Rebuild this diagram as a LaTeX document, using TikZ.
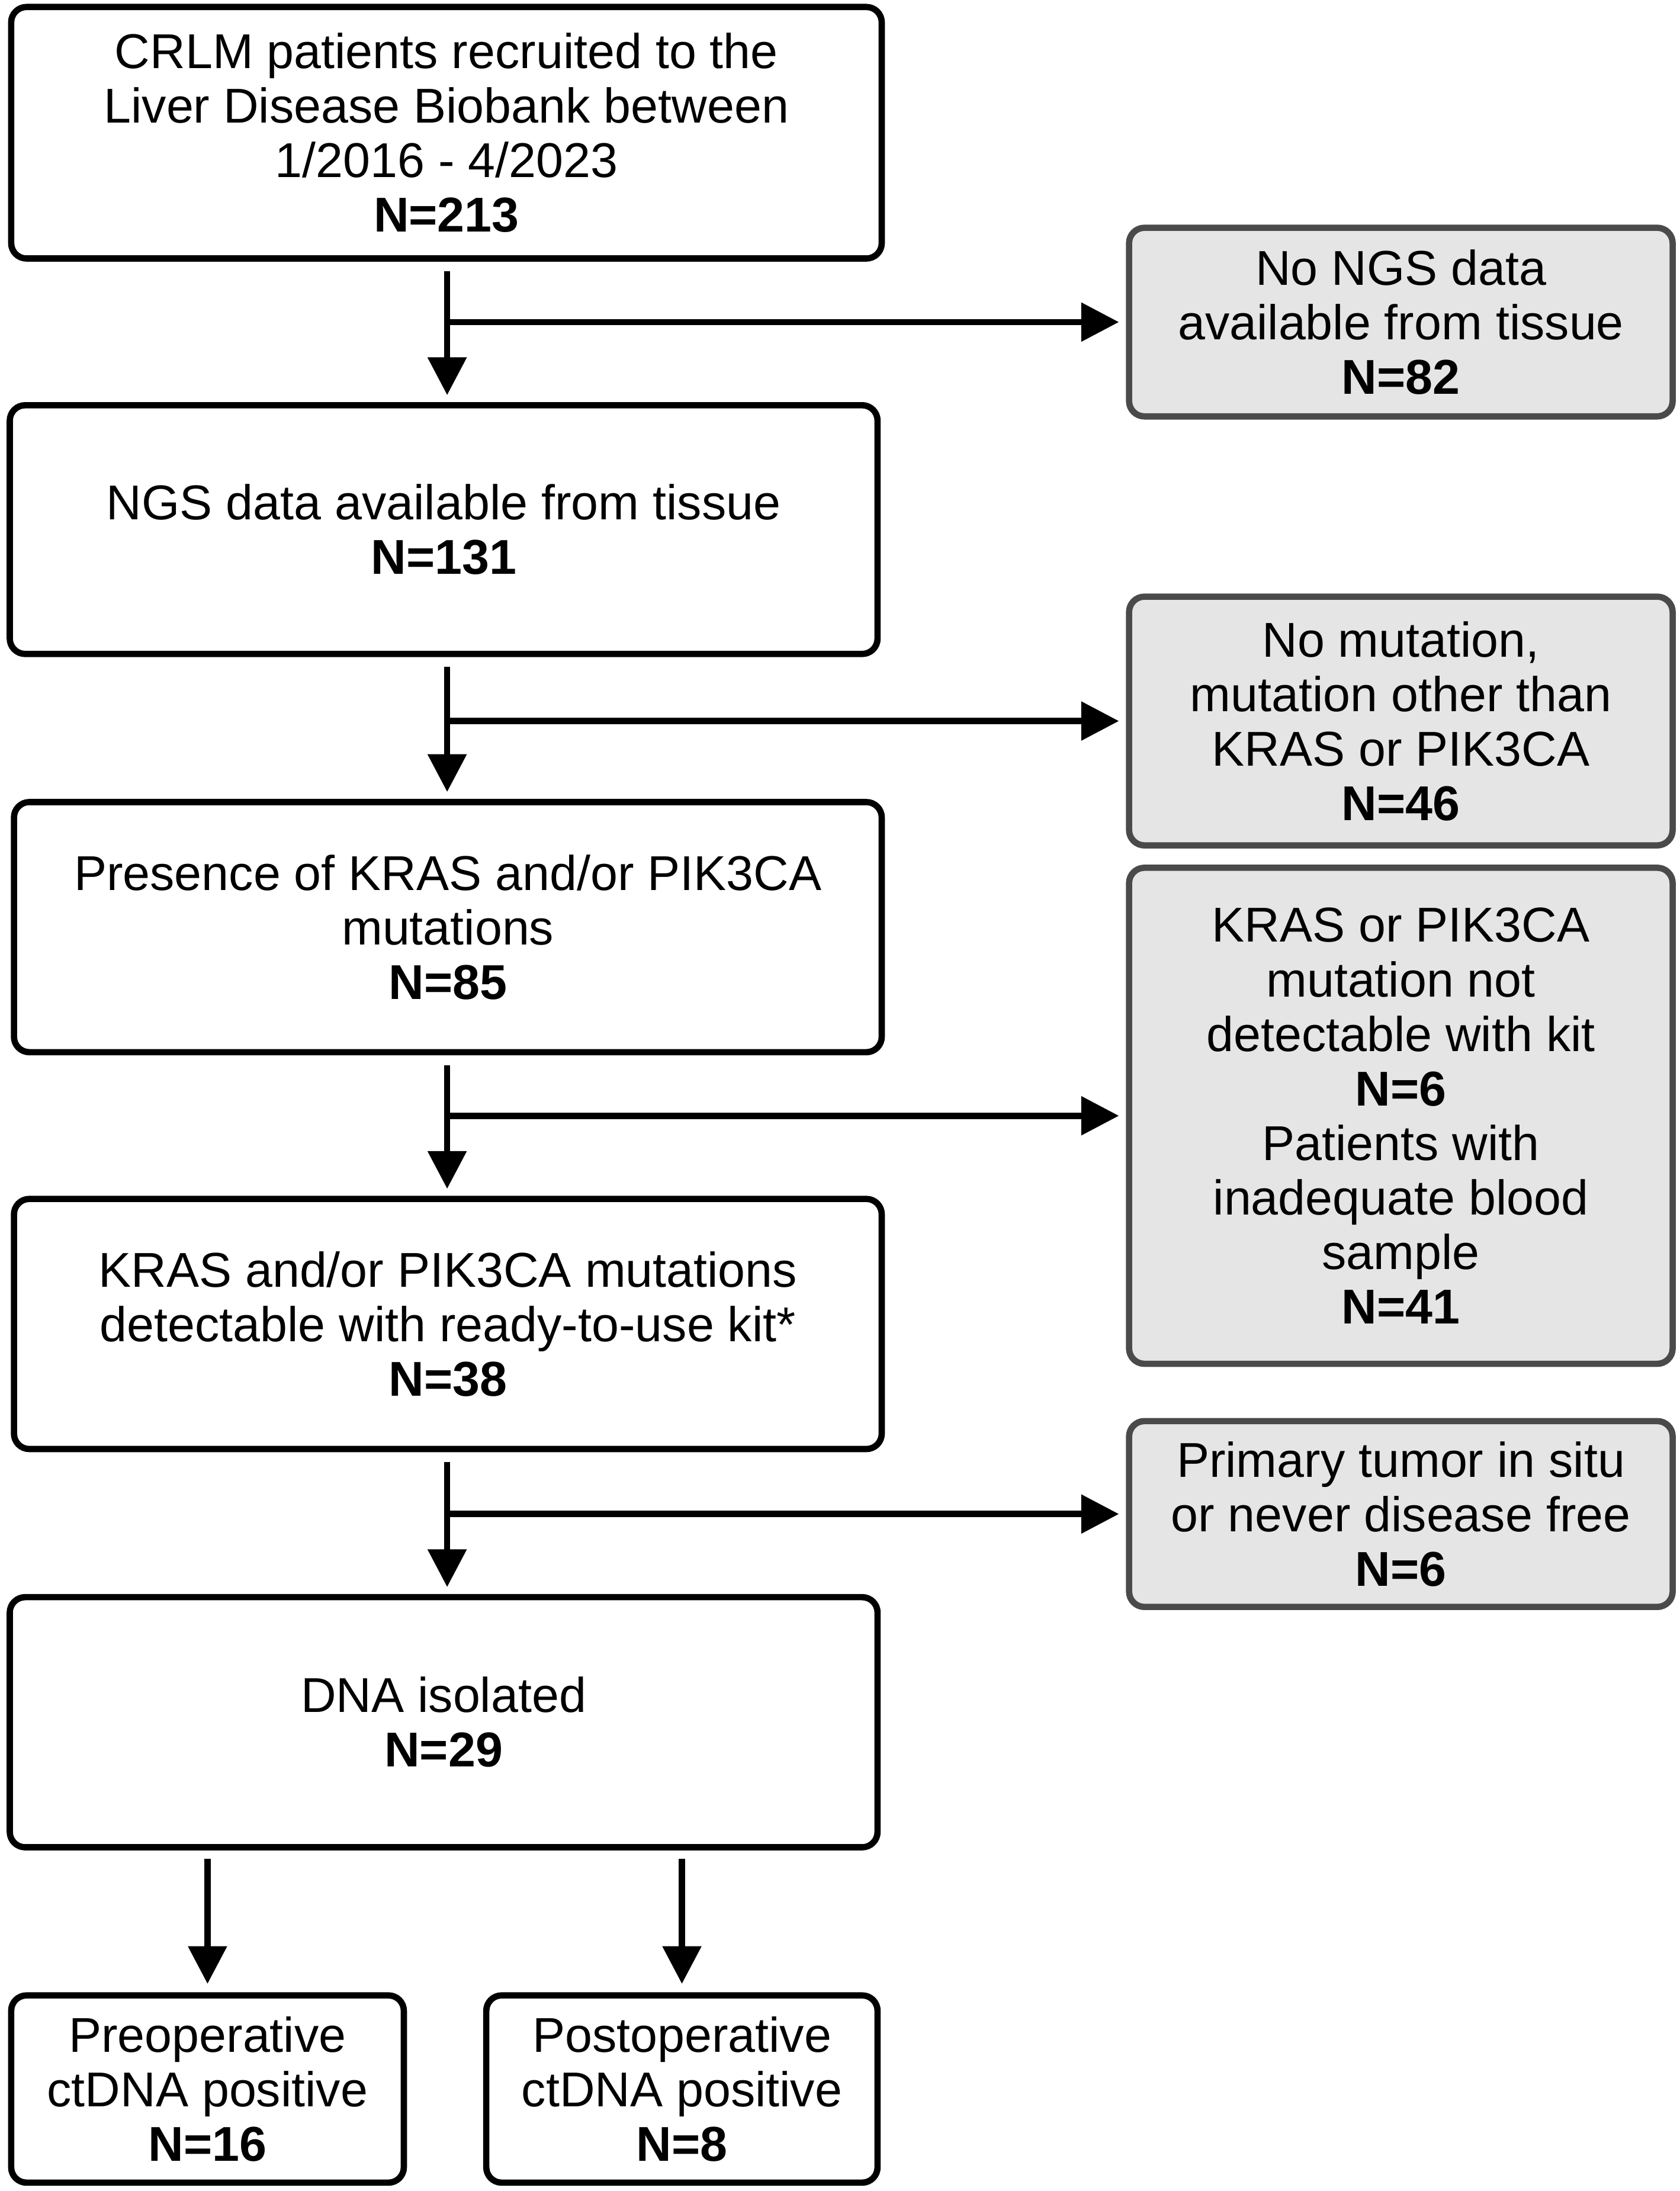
\documentclass[tikz,border=0pt]{standalone}
\usepackage{fontspec}
\setmainfont{Liberation Sans}
\usetikzlibrary{arrows.meta}
\definecolor{grayfill}{HTML}{E5E5E5}
\definecolor{grayline}{HTML}{4A4A4A}
\begin{document}
\begin{tikzpicture}[x=1pt,y=-1pt,
  every node/.style={font=\fontsize{35}{39}\selectfont},
  mainbox/.style={draw=black,fill=white,line width=4.5pt,rounded corners=11pt,
    align=center,inner sep=0pt},
  greybox/.style={draw=grayline,fill=grayfill,line width=4.5pt,rounded corners=11pt,
    align=center,inner sep=0pt},
  arr/.style={line width=4.5pt,-{Triangle[length=27pt,width=27pt]}}
]
\useasboundingbox (0,0) rectangle (1202,1568);

\node[mainbox,minimum width=623pt,minimum height=180pt] (b1) at (319.5,95)
  {CRLM patients recruited to the\\Liver Disease Biobank between\\1/2016 - 4/2023\\\textbf{N=213}};
\node[greybox,minimum width=389pt,minimum height=135pt] (g1) at (1002.5,230.5)
  {No NGS data\\available from tissue\\\textbf{N=82}};
\node[mainbox,minimum width=621pt,minimum height=178pt] (b2) at (317.5,379)
  {NGS data available from tissue\\\textbf{N=131}};
\node[greybox,minimum width=389pt,minimum height=178pt] (g2) at (1002.5,516)
  {No mutation,\\mutation other than\\KRAS or PIK3CA\\\textbf{N=46}};
\node[mainbox,minimum width=621pt,minimum height=179pt] (b3) at (320.5,663.5)
  {Presence of KRAS and/or PIK3CA\\mutations\\\textbf{N=85}};
\node[greybox,minimum width=389pt,minimum height=355pt] (g3) at (1002.5,798.5)
  {KRAS or PIK3CA\\mutation not\\detectable with kit\\\textbf{N=6}\\Patients with\\inadequate blood\\sample\\\textbf{N=41}};
\node[mainbox,minimum width=621pt,minimum height=179pt] (b4) at (320.5,947.5)
  {KRAS and/or PIK3CA mutations\\detectable with ready-to-use kit*\\\textbf{N=38}};
\node[greybox,minimum width=389pt,minimum height=133pt] (g4) at (1002.5,1083.5)
  {Primary tumor in situ\\or never disease free\\\textbf{N=6}};
\node[mainbox,minimum width=621pt,minimum height=179pt] (b5) at (317.5,1232.5)
  {DNA isolated\\\textbf{N=29}};
\node[mainbox,minimum width=281pt,minimum height=134pt] (b6) at (148.5,1495)
  {Preoperative\\ctDNA positive\\\textbf{N=16}};
\node[mainbox,minimum width=280pt,minimum height=134pt] (b7) at (488,1495)
  {Postoperative\\ctDNA positive\\\textbf{N=8}};

\coordinate (cx) at (320,0);
\foreach \a/\b/\g in {b1/b2/g1, b2/b3/g2, b3/b4/g3, b4/b5/g4}{
  \draw[arr,shorten <=7pt,shorten >=5pt] (\a.south -| cx) -- (\b.north -| cx);
  \draw[arr,shorten >=5pt] (\g.west -| cx) -- (\g.west);
}
\draw[arr,shorten <=6pt,shorten >=6pt] (b5.south -| b6.north) -- (b6.north);
\draw[arr,shorten <=6pt,shorten >=6pt] (b5.south -| b7.north) -- (b7.north);
\end{tikzpicture}
\end{document}
